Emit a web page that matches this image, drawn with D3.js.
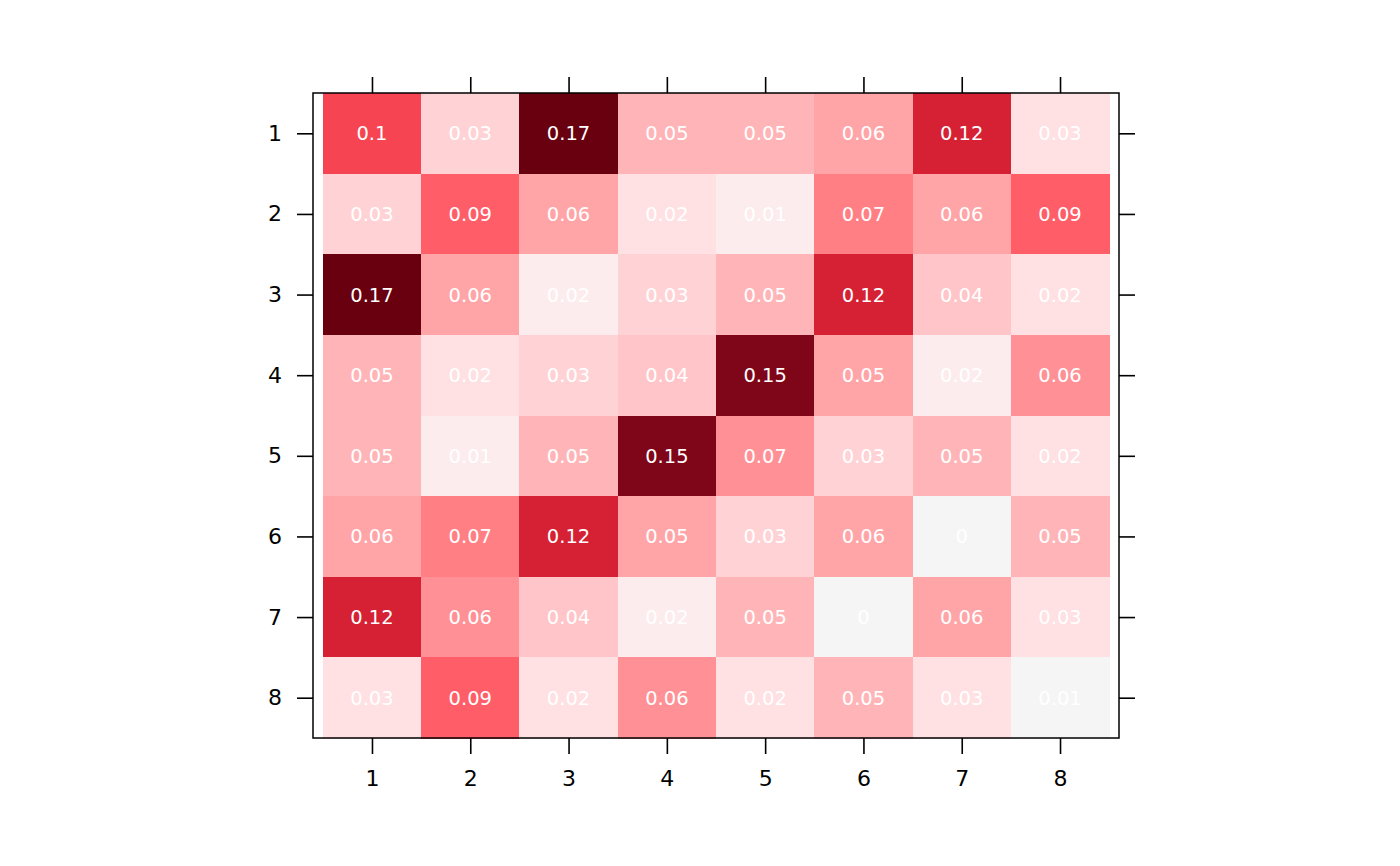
<!DOCTYPE html>
<html>
<head>
<meta charset="utf-8">
<script src="https://cdn.jsdelivr.net/npm/d3@7"></script>
<style>
  body { margin: 0; background: #fff; }
</style>
</head>
<body>
<div id="chart"></div>
<script>
// row / column categories
const rowLabels = ['1', '2', '3', '4', '5', '6', '7', '8'];
const colLabels = ['1', '2', '3', '4', '5', '6', '7', '8'];

// matrix values (one array per row)
const row1 = [0.101, 0.031, 0.171, 0.050, 0.050, 0.060, 0.121, 0.026];
const row2 = [0.031, 0.090, 0.061, 0.022, 0.012, 0.072, 0.061, 0.090];
const row3 = [0.171, 0.061, 0.016, 0.031, 0.050, 0.121, 0.040, 0.022];
const row4 = [0.050, 0.022, 0.031, 0.040, 0.150, 0.054, 0.016, 0.064];
const row5 = [0.050, 0.012, 0.050, 0.150, 0.066, 0.031, 0.050, 0.022];
const row6 = [0.060, 0.072, 0.121, 0.054, 0.031, 0.060, 0.004, 0.050];
const row7 = [0.121, 0.064, 0.040, 0.016, 0.050, 0.004, 0.060, 0.026];
const row8 = [0.026, 0.090, 0.022, 0.064, 0.022, 0.050, 0.026, 0.008];
const matrix = [row1, row2, row3, row4, row5, row6, row7, row8];

// colour key breaks
const breaks = [0.01, 0.02, 0.03, 0.04, 0.05, 0.053, 0.063, 0.07, 0.08, 0.095, 0.11, 0.14, 0.16];
const palette = ['#F5F5F5', '#FDECEE', '#FFE0E3', '#FFD3D6', '#FFC5C8', '#FFB5B8', '#FFA5A8',
                 '#FF9196', '#FF7F84', '#FF5D67', '#F64452', '#D62034', '#7F0519', '#69000F'];

const width = 1400, height = 866;
const panel = { left: 313, right: 1119, top: 93, bottom: 738 };
const font = '"DejaVu Sans", sans-serif';

const svg = d3.select('#chart').append('svg')
  .attr('width', width)
  .attr('height', height);

// scales: x keeps a little padding inside the panel, y fills it
const x = d3.scaleLinear().domain([0.4, 8.6]).range([panel.left, panel.right]);
const y = d3.scaleLinear().domain([0.5, 8.5]).range([panel.top, panel.bottom]);
const color = d3.scaleThreshold().domain(breaks).range(palette);

const cells = [];
matrix.forEach((r, i) => r.forEach((v, j) => cells.push({ row: i + 1, col: j + 1, value: v })));

svg.append('g')
  .selectAll('rect')
  .data(cells)
  .join('rect')
    .attr('x', d => x(d.col - 0.5))
    .attr('y', d => y(d.row - 0.5))
    .attr('width', d => x(d.col + 0.5) - x(d.col - 0.5) + 0.5)
    .attr('height', d => y(d.row + 0.5) - y(d.row - 0.5) + 0.5)
    .attr('fill', d => color(d.value))
    .attr('shape-rendering', 'crispEdges');

svg.append('g')
  .selectAll('text')
  .data(cells)
  .join('text')
    .attr('x', d => x(d.col))
    .attr('y', d => y(d.row))
    .attr('dy', '0.36em')
    .attr('text-anchor', 'middle')
    .attr('font-family', font)
    .attr('font-size', 19.5)
    .attr('fill', '#fff')
    .text(d => String(+d.value.toFixed(2)));

// panel border
svg.append('rect')
  .attr('x', panel.left)
  .attr('y', panel.top)
  .attr('width', panel.right - panel.left)
  .attr('height', panel.bottom - panel.top)
  .attr('fill', 'none')
  .attr('stroke', '#000')
  .attr('stroke-width', 1.5);

// axes: labels on left and bottom, bare ticks on top and right
const ticks = d3.range(1, 9);
function styleAxis(g) {
  g.attr('font-family', font).attr('font-size', 22);
  g.select('.domain').remove();
  g.selectAll('line').attr('stroke', '#000').attr('stroke-width', 1.6);
  g.selectAll('text').attr('fill', '#000');
}
svg.append('g')
  .attr('transform', `translate(0,${panel.bottom})`)
  .call(d3.axisBottom(x).tickValues(ticks).tickSize(16).tickPadding(16).tickFormat(d => colLabels[d - 1]))
  .call(styleAxis);
svg.append('g')
  .attr('transform', `translate(0,${panel.top})`)
  .call(d3.axisTop(x).tickValues(ticks).tickSize(16).tickFormat(''))
  .call(styleAxis);
svg.append('g')
  .attr('transform', `translate(${panel.left},0)`)
  .call(d3.axisLeft(y).tickValues(ticks).tickSize(16).tickPadding(15).tickFormat(d => rowLabels[d - 1]))
  .call(styleAxis);
svg.append('g')
  .attr('transform', `translate(${panel.right},0)`)
  .call(d3.axisRight(y).tickValues(ticks).tickSize(16).tickFormat(''))
  .call(styleAxis);
</script>
</body>
</html>
